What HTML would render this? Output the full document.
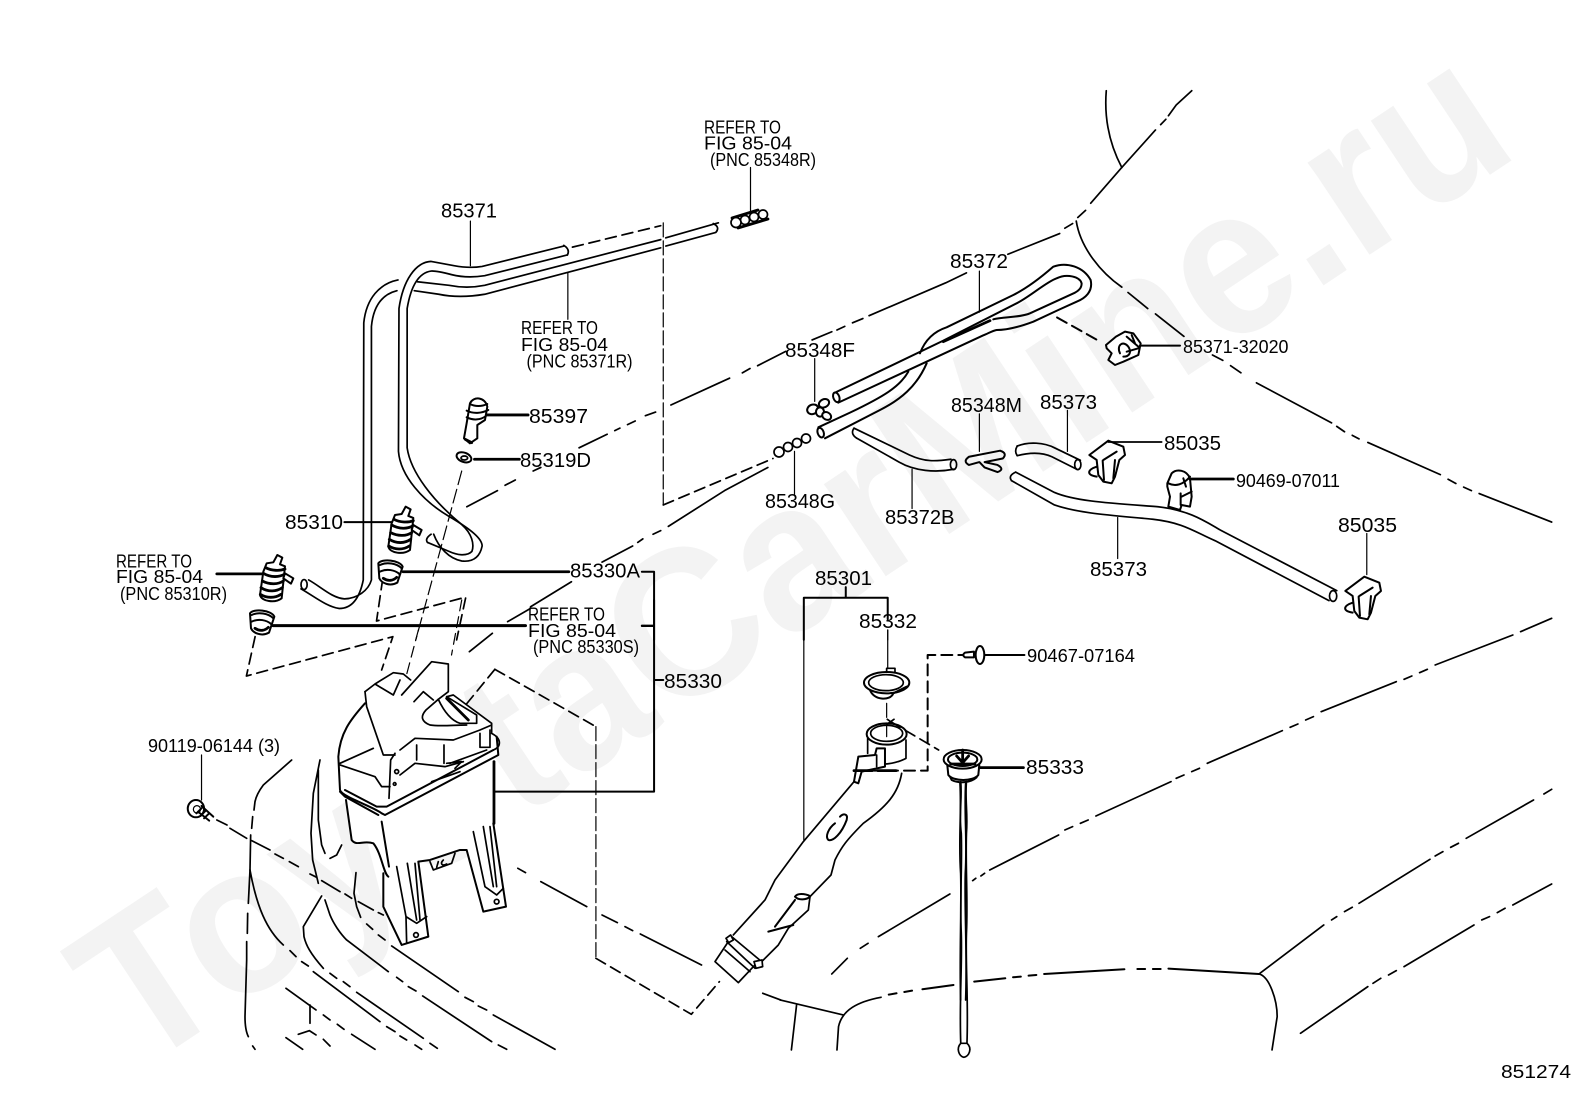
<!DOCTYPE html>
<html><head><meta charset="utf-8"><style>
html,body{margin:0;padding:0;background:#fff;width:1592px;height:1099px;overflow:hidden}
svg{display:block;overflow:hidden}
path,line,ellipse,circle,polyline{vector-effect:non-scaling-stroke}
.g{fill:none;stroke:#000;stroke-width:1.7;stroke-linejoin:round;stroke-linecap:round}
.t{stroke-width:1.2}.k{stroke-width:2.8}.d{stroke-dasharray:11 6}.b{stroke-width:2}
.w{fill:#fff}.f{fill:#000}
text{font-family:"Liberation Sans",sans-serif;font-size:20.5px;fill:#000}
text.s{font-size:18.5px}
text.wm{font-size:210px;font-weight:bold;fill:#f3f3f3}
</style></head><body>
<svg width="1592" height="1099" viewBox="0 0 1592 1099" xmlns="http://www.w3.org/2000/svg">
<rect width="1592" height="1099" fill="#fff"/>
<text class="wm" x="138" y="1073" transform="rotate(-33.6 138 1073)" textLength="1662" lengthAdjust="spacingAndGlyphs">ToyotaCarMine.ru</text>

<!-- zoom 1 coords -->
<g class="g" transform="translate(0,80) scale(.5102,.3571)">
<path d="M1105,465L945,522Q920,528 890,520T845,508C815,510 790,560 782,640L781,1040C785,1110 830,1180 880,1222C925,1260 945,1285 945,1305C940,1340 925,1350 905,1347C880,1340 860,1310 850,1272"/>
<path d="M1112,490L950,548Q915,556 885,545T845,535C820,540 805,580 798,640L798,1030C805,1100 850,1180 905,1245C925,1270 930,1300 925,1320C915,1335 895,1330 880,1320L838,1295"/>
<path d="M1105,463Q1118,475 1112,490"/>
<path d="M845,1272Q832,1285 838,1295"/>
<path d="M1408,400L1305,442M1295,447L950,575Q915,585 880,575L818,565"/>
<path d="M1398,402Q1412,412 1403,427L1305,465M1295,470L950,600Q900,612 860,600L812,590"/>
<path d="M780,560C745,570 718,610 713,680L712,1400C705,1450 690,1480 665,1480C640,1475 615,1445 590,1425"/>
<path d="M778,590C750,600 732,630 728,690L728,1400C722,1430 700,1452 675,1453C650,1450 630,1420 605,1400"/>
<ellipse cx="596" cy="1413" rx="6" ry="14"/>
<!-- leaders -->
<path class="t" d="M922,395V520M1113,540V670M1471,245V375"/>
<path class="k" d="M955,938H1035M930,1062H1018M425,1383H515M790,1377H1115M535,1528H1030"/>
<path class="b" d="M675,1238H770M1258,1377H1282V1568M1258,1528H1282"/>
<!-- dashes -->
<path class="d" d="M1122,468L1295,408"/>
<path class="t" stroke-dasharray="14 4" d="M1300,400V1190"/>
<path class="d" d="M1300,1190L1515,1060"/>
<path d="M1540,760L1485,800M1470,808L1455,820M1430,835L1410,848L1315,910M1285,930L1265,940M1245,955L1230,965M1215,975L1205,982M1190,992L1135,1030M1060,1085L1045,1095M1010,1120L990,1135M975,1150L915,1195"/>
<path d="M1505,1085L1420,1150L1310,1250M1295,1262L1280,1272M1260,1285L1250,1295M1240,1305L1180,1350M1120,1405L1040,1475"/>
<path class="t" stroke-dasharray="14 5" d="M905,1095L815,1568"/>
<path class="d" d="M755,1350L738,1515L913,1448L895,1568"/>
</g>

<!-- small multi-ring fittings (true px) -->
<g class="g">
<path class="k" d="M736,222.5L763,214.5M732,218L758,210M738,228L768,219"/>
<circle class="w" cx="763" cy="214.5" r="4.5"/><circle class="w" cx="754" cy="217" r="4.5"/><circle class="w" cx="745" cy="220" r="4.5"/><circle class="w" cx="736" cy="222.5" r="5"/>
<circle class="w" cx="806" cy="438.5" r="4.5"/><circle class="w" cx="797" cy="443" r="4.5"/><circle class="w" cx="788" cy="447" r="4.5"/><circle class="w" cx="779" cy="452" r="5"/>
</g>

<!-- connectors, true 3x at 240,390 -->
<g class="g" transform="translate(240,390) scale(.3333)">
<path class="b w" d="M690,40C700,18 735,20 742,50L735,90L712,105L712,145L690,160L672,145L680,100Z"/>
<path class="b" d="M690,42C705,50 725,50 742,42M680,62C700,72 725,70 745,60M680,82C700,92 722,90 738,78"/>
<path class="k" d="M676,148L695,158"/>
<ellipse class="b w" cx="672" cy="202" rx="23" ry="14" transform="rotate(20 672 202)"/>
<ellipse cx="673" cy="204" rx="10" ry="6"/>
<g>
<path class="b w" d="M485,372L497,350L512,358L505,378L520,384L510,480C490,495 450,490 445,470L455,400L465,375Z"/>
<path class="k" d="M462,388C480,398 505,398 520,392M455,405C480,420 505,415 518,408M452,428C475,440 500,438 515,428M448,448C470,462 495,460 512,448M446,468C465,480 490,480 508,468"/>
<path class="b w" d="M520,405L545,420L538,436L515,420Z"/>
</g>
<g transform="translate(-385,145)">
<path class="b w" d="M485,372L497,350L512,358L505,378L520,384L510,480C490,495 450,490 445,470L455,400L465,375Z"/>
<path class="k" d="M462,388C480,398 505,398 520,392M455,405C480,420 505,415 518,408M452,428C475,440 500,438 515,428M448,448C470,462 495,460 512,448M446,468C465,480 490,480 508,468"/>
<path class="b w" d="M520,405L545,420L538,436L515,420Z"/>
</g>
<path class="b w" d="M415,520C425,505 480,510 488,530L472,578C450,590 425,580 418,565Z"/>
<path class="b" d="M420,525C440,515 470,520 485,535M420,545C440,535 465,540 478,552"/>
<path class="k" d="M430,565C445,575 460,572 470,562"/>
<path class="b w" d="M30,670C40,655 95,660 103,680L87,728C65,740 40,730 33,715Z"/>
<path class="b" d="M35,675C55,665 85,670 100,685M35,695C55,685 80,690 93,702"/>
<path class="k" d="M45,715C60,725 75,722 85,712"/>
</g>

<!-- zoom 2 coords -->
<g class="g" transform="translate(780,80) scale(.5179,.3571)">
<path d="M630,30C625,120 640,190 660,245"/>
<path d="M795,30L765,70L750,100M745,110L735,125M725,140L660,245L600,345M590,365L575,385M565,402L550,415M540,430L440,488M360,540L320,568M320,568L172,660M160,668L140,680M125,690L110,700M100,705L62,728"/>
<path d="M572,395C580,470 620,540 660,580M672,595L710,640M725,655L780,718M835,770L855,785M870,800L890,820M920,848L1065,960M1075,970L1090,985M1105,995L1118,1005M1135,1015L1275,1105M1290,1118L1305,1130M1320,1140L1335,1150M1350,1158L1490,1238"/>
<path class="d b" d="M535,665L615,730"/>
<path class="t" d="M385,535V650M555,925V1040M385,935V1040M1133,1270V1385M652,1225V1340M255,1090V1200M28,1040V1160M67,780V900"/>
<path class="b" d="M46,1568V1450H208V1510M127,1420V1450"/>
<path class="t" d="M208,1540V1568"/>
<!-- 85372B -->
<path d="M143,975L250,1050C280,1070 300,1068 330,1062M148,1003L230,1070C260,1095 300,1100 335,1090"/>
<path d="M143,975Q135,990 148,1003"/><ellipse cx="335" cy="1077" rx="6" ry="14"/>
<!-- 85373 short -->
<path d="M458,1025C480,1012 510,1015 530,1030L580,1065M458,1052C490,1040 510,1045 525,1055L573,1090"/>
<path d="M458,1025Q452,1040 458,1052"/><ellipse cx="575" cy="1077" rx="6" ry="14"/>
<!-- 85373 long -->
<path d="M455,1098L530,1155C570,1180 640,1185 730,1195C790,1205 820,1235 850,1260L1075,1430M447,1122L530,1190C580,1215 650,1220 720,1230C780,1240 800,1265 840,1290L1060,1458"/>
<path d="M455,1098Q440,1108 447,1122"/><ellipse cx="1068" cy="1445" rx="7" ry="15"/>
<!-- 85348M T -->
<path class="b" d="M365,1055L425,1038Q440,1045 430,1060L395,1070L420,1078Q435,1090 420,1098L395,1085L385,1070L365,1078Q352,1068 365,1055Z"/>
</g>

<!-- 85372 hoses true 3x at 800,250 -->
<g class="g" transform="translate(800,250) scale(.3333)">
<path class="b" d="M55,532L150,488C250,440 300,410 325,365M360,310C375,270 400,245 440,232L640,135C680,115 720,85 760,50C800,35 850,50 872,90C880,125 855,145 830,155L775,180L700,215C660,230 620,240 590,240C578,242 565,250 550,256L115,458"/>
<path class="b" d="M75,565L240,480C300,450 350,410 380,340"/>
<path class="b" d="M105,428L430,272L650,160C690,140 740,95 770,85C800,70 840,80 845,100C845,115 835,122 825,128L690,190C660,203 610,200 580,208"/>
<path class="k" d="M430,275L570,212"/>
<ellipse class="b w" cx="109" cy="442" rx="9" ry="15" transform="rotate(-20 109 442)"/>
<ellipse class="b w" cx="62" cy="548" rx="9" ry="15" transform="rotate(-20 62 548)"/>
<!-- 85348F -->
<ellipse class="b w" cx="72" cy="460" rx="16" ry="12" transform="rotate(-25 72 460)"/>
<ellipse class="b w" cx="38" cy="478" rx="17" ry="14" transform="rotate(-25 38 478)"/>
<ellipse class="b w" cx="60" cy="486" rx="12" ry="14"/>
<ellipse class="b w" cx="80" cy="498" rx="14" ry="11" transform="rotate(30 80 498)"/>
</g>

<!-- clips / nozzles true 3x at 1080,320 -->
<g class="g" transform="translate(1080,320) scale(.3333)">
<path class="b w" d="M78,75L108,50L135,35L160,40L182,70L175,105L130,125L105,135L85,120L95,100L80,85Z"/>
<path class="b" d="M120,100C108,75 130,60 145,80C155,95 150,110 130,110M140,50L175,80M155,45L165,70M140,95L175,85"/>
<path class="b" d="M180,77H300"/>
<path class="b w" d="M28,405L85,362L130,380L135,405L118,420L105,470L95,490L70,485L55,465L50,420Z"/>
<path class="b" d="M70,420L110,395M50,440C20,450 20,465 50,470M68,422L72,480M105,420L100,475"/>
<path d="M85,366H245"/>
<g transform="translate(768,408)">
<path class="b w" d="M28,405L85,362L130,380L135,405L118,420L105,470L95,490L70,485L55,465L50,420Z"/>
<path class="b" d="M70,420L110,395M50,440C20,450 20,465 50,470M68,422L72,480M105,420L100,475"/>
</g>
<path class="b w" d="M262,490L275,460C290,445 320,450 330,475L335,530L330,560L305,555L300,570L265,560L270,530L262,500Z"/>
<path class="b" d="M265,490C285,500 310,495 330,470M305,530L335,515M310,475L318,500M302,520L302,555"/>
<path class="k" d="M330,477H460"/>
</g>

<!-- zoom 3 coords -->
<g class="g" transform="translate(0,600) scale(.5102,.3333)">
<path class="b" d="M1282,0V575H970M1258,78H1282M1282,240H1300"/>
<path class="k" d="M535,77H1030"/>
<path class="d" d="M500,110L483,228L770,110L748,210"/>
<path class="d t" d="M820,90L795,235M905,0L885,165"/>
<path d="M1040,25L995,65M965,100L920,155"/>
<path class="d" d="M970,208L910,320"/>
<path class="d" d="M970,208L1168,380"/>
<path class="t" stroke-dasharray="14 4" d="M1168,380V1075"/>
<path class="d" d="M1168,1075L1355,1243L1410,1145"/>
<path d="M1015,805L1030,818M1060,845L1150,920M1180,945L1210,968M1225,980L1240,992M1255,1002L1375,1095"/>
<path d="M425,660L445,675"/>
<!-- bolt 90119 -->
<path class="t" d="M395,465V600"/>
<ellipse class="b" cx="384" cy="626" rx="16" ry="26"/><ellipse class="t" cx="386" cy="628" rx="7" ry="11"/>
<path class="b" d="M395,618L418,650M388,635L410,662M395,625L385,640M403,632L393,648M410,640L400,655"/>
<path d="M1495,1180L1530,1200"/>
</g>

<!-- car lines true 3x at 230,760 -->
<g class="g" transform="translate(230,760) scale(.3333)">
<path d="M185,0L100,75C85,95 78,110 75,125L72,150M68,170L65,205M62,225L60,330L55,430M53,460L52,520M50,545L50,600L45,770C45,800 50,820 55,830M68,858L75,868"/>
<path d="M60,330C80,440 110,510 160,555M180,572L198,590M215,605L235,618M250,635L450,785M470,800L495,815M510,828L530,840M555,855L575,868"/>
<path d="M270,0L250,100L243,220L248,300L265,370M285,420L300,465C310,490 330,520 350,540L475,635M500,652L518,665M535,680L558,693M578,708L785,845M805,855L830,868"/>
<path d="M275,408L220,500L222,530C228,555 240,580 280,625M300,640L320,655M340,665L360,680M380,697L580,835M600,850L622,865"/>
<path d="M378,338L372,400L380,440L392,472M410,492L428,508M445,525L465,540M485,558L685,695M705,712L730,725M745,738L770,750M790,765L975,868"/>
<path d="M265,30L265,180L275,255M275,255L285,280M300,295L320,285L335,255"/>
<path d="M168,685L258,750M280,765L300,780M322,793L342,808M365,823L435,868M240,735V790M205,823L238,812L258,825M280,838L300,858M168,833L218,868"/>
<path d="M0,205L50,235M65,242L120,270M135,282L160,295M178,305L205,320M240,342L260,352M275,362L330,395M345,402L365,415M385,425L430,450M445,458L460,465"/>
</g>

<!-- zoom 4 coords -->
<g class="g" transform="translate(780,600) scale(.5179,.3333)">
<path d="M1490,55L1430,95M1415,105L1265,195M1250,208L1235,218M1220,228L1205,238M1190,245L1045,335M1030,350L1015,360M1000,372L985,382M970,392L825,490M810,505L795,515M780,525L765,535M755,545L610,648M595,660L580,670M565,680L550,690M538,705L405,810M395,820L388,828M378,835L372,842M328,882L190,1010M170,1030L155,1045M130,1075L100,1122"/>
<path d="M1490,568L1475,582M1455,600L1325,715M1310,730L1295,742M1280,755L1265,768M1255,778L1118,910M1105,922L1090,935M1075,950L1065,960M1050,975L925,1122"/>
<path d="M1490,852L1415,915M1400,925L1385,938M1370,950L1355,960M1340,975L1205,1100M1190,1112L1175,1125M1160,1135L1145,1150M1135,1160L1005,1300"/>
<path class="b" d="M375,1145L435,1135M450,1132L465,1130M480,1127L495,1125M510,1122L665,1108M690,1107L705,1107M720,1107L735,1107M750,1106L925,1122"/>
<path class="b" d="M335,1155L275,1168M255,1172L240,1176M225,1180L210,1184"/>
<path d="M195,1192C150,1205 120,1230 113,1280L110,1350"/>
<path d="M0,1200L122,1245"/>
<path d="M32,1215L22,1350"/>
<path d="M925,1122C945,1130 960,1200 960,1250L950,1350"/>
<path class="t" d="M46,0V720M208,90V205"/>
<path class="b" d="M395,165H472"/>
<path class="k" d="M385,503H470"/>
<!-- dipstick -->
<path d="M349,545C352,600 345,640 350,700C352,800 347,900 350,1000C352,1100 346,1200 349,1330M360,545C357,600 363,640 360,700C358,800 363,900 360,1000C358,1100 364,1200 361,1330"/>
<path class="w" d="M349,1330C340,1345 345,1368 355,1372C365,1370 372,1345 361,1330Z"/>
</g>

<!-- tank -->
<g class="g" transform="translate(320,660) scale(.3333)">
<path class="w" stroke="none" d="M135,95L165,72L220,38L250,42L272,60L335,5L385,12L385,95L400,105L515,190L535,235L530,290L522,305L522,490L558,740L490,755L440,570L420,570L330,600L295,605L325,830L245,855L190,740L190,640L160,550C130,540 110,560 95,540L78,420L60,390L55,290C60,220 90,180 135,130Z"/>
<path d="M135,95L165,72L220,38L250,42L272,60M245,105L335,5L385,12L385,95L355,118L318,150C300,170 305,185 330,195C360,200 400,195 440,195M165,72L220,105L240,60M282,125L310,95L340,120"/>
<path d="M135,95L140,140L190,285L225,285M355,118C370,150 390,180 420,190L470,190L470,165L380,110M380,110L400,105L515,190L515,220"/>
<path d="M240,270L285,235L400,240L480,210L515,195M60,310L160,265M60,315L165,350L185,380L210,380"/>
<path class="b" d="M135,130C90,180 60,220 55,290L60,390C65,410 160,440 185,460L195,465L535,285L530,230"/>
<path class="b" d="M75,390L170,440L200,440L520,270M60,395L75,410L175,465"/>
<path class="b" d="M78,420L95,540C110,560 130,540 160,550C185,580 190,640 205,650M185,485L207,620M190,640L190,740L245,855L325,830L295,605L330,600L420,570L440,570L490,755L558,740L520,490"/>
<path class="k" d="M522,305V490"/>
<path d="M230,620L258,770L290,790L320,770M262,610L290,780M285,610L300,780M258,770L260,850"/>
<circle cx="288" cy="825" r="7"/>
<path d="M460,515L495,680L530,705L550,685M490,500L520,680M510,500L530,680"/>
<circle cx="530" cy="725" r="7"/>
<path d="M330,605L340,630L395,610L405,580M355,605L350,622M370,600C360,610 365,620 380,612"/>
<path d="M290,255V300M372,255V310M207,415L212,300L225,280M240,345L285,310L375,320L430,305"/>
<circle cx="230" cy="335" r="6"/><circle cx="224" cy="372" r="4"/>
<path d="M480,220V262H510V210M390,310L500,270M335,365L420,335M515,220C545,235 545,260 520,270M380,310L425,305L405,325"/>
<path class="k" d="M380,115L445,180"/>
</g>

<!-- filler neck / caps -->
<g class="g" transform="translate(700,640) scale(.3333)">
<path class="b" d="M510,150C520,180 570,185 580,160L620,140"/>
<path class="w" d="M560,97V85H585V97"/>
<ellipse class="b" cx="560" cy="128" rx="68" ry="32"/>
<ellipse cx="558" cy="128" rx="52" ry="24"/>
<path class="t" stroke-dasharray="14 6" d="M560,190V290"/>
<path class="d" d="M572,245L716,330"/>
<path d="M562,238L582,252M582,238L562,252"/>
<ellipse class="b" cx="560" cy="282" rx="60" ry="32"/>
<ellipse cx="560" cy="280" rx="48" ry="24"/>
<path d="M503,295V340M618,300V355C600,365 570,372 555,372"/>
<path class="w b" d="M555,325L530,325L525,345L475,350L462,425L475,430L485,395L555,380Z"/>
<path d="M530,345L530,380"/>
<path d="M462,425L310,605L225,720L195,780L100,885"/>
<path d="M605,400C595,460 560,500 490,550C440,600 425,620 405,660L393,705L330,770L325,810L265,865L235,915L185,965"/>
<path class="b" d="M405,550C385,565 375,590 385,600C400,605 425,580 440,540C445,520 430,520 420,530"/>
<path class="b" d="M285,770C295,755 330,765 330,770C320,780 295,782 285,770M285,780L225,860M205,875L280,855"/>
<path d="M85,905L45,965L115,1028L165,975"/>
<path d="M80,905L165,985M95,890L185,965M75,930L150,995"/>
<path class="w" d="M78,895L92,885L100,900L86,908ZM162,965L186,960L188,980L168,985Z"/>
<path class="d b" d="M510,392H683V45H790"/>
<path class="k" d="M462,392H600" stroke-dasharray="18 6"/>
<path class="w b" d="M795,38L822,35V52L795,52Q785,45 795,38Z"/>
<ellipse class="w b" cx="840" cy="45" rx="13" ry="27"/>
<path class="b" d="M742,375L745,405C760,425 820,425 835,405L838,375"/>
<path class="b" d="M750,410L755,420C775,430 810,430 830,412"/>
<ellipse class="w b" cx="788" cy="358" rx="57" ry="28"/>
<ellipse class="b" cx="788" cy="358" rx="44" ry="20"/>
<path class="k" d="M770,348L788,368L806,348M788,330V372M752,372H825"/>
<path d="M780,430C785,520 775,600 782,700C785,800 778,950 782,1080M797,430C792,520 802,600 796,700C793,800 802,950 797,1080"/>
</g>

<!-- labels -->
<text class="s" x="704" y="133.6" textLength="77" lengthAdjust="spacingAndGlyphs">REFER TO</text>
<text class="s" x="704" y="149.5" textLength="88" lengthAdjust="spacingAndGlyphs">FIG 85-04</text>
<text class="s" x="710" y="166" textLength="106" lengthAdjust="spacingAndGlyphs">(PNC 85348R)</text>
<text x="441" y="217.5" textLength="56" lengthAdjust="spacingAndGlyphs">85371</text>
<text class="s" x="521" y="334" textLength="77" lengthAdjust="spacingAndGlyphs">REFER TO</text>
<text class="s" x="521" y="351" textLength="87" lengthAdjust="spacingAndGlyphs">FIG 85-04</text>
<text class="s" x="526.5" y="367.5" textLength="106" lengthAdjust="spacingAndGlyphs">(PNC 85371R)</text>
<text x="529" y="423" textLength="59" lengthAdjust="spacingAndGlyphs">85397</text>
<text x="520" y="467" textLength="71" lengthAdjust="spacingAndGlyphs">85319D</text>
<text x="285" y="529" textLength="58" lengthAdjust="spacingAndGlyphs">85310</text>
<text class="s" x="116" y="567.5" textLength="76" lengthAdjust="spacingAndGlyphs">REFER TO</text>
<text class="s" x="116" y="583" textLength="87" lengthAdjust="spacingAndGlyphs">FIG 85-04</text>
<text class="s" x="120" y="600" textLength="107" lengthAdjust="spacingAndGlyphs">(PNC 85310R)</text>
<text x="570" y="577.5" textLength="70" lengthAdjust="spacingAndGlyphs">85330A</text>
<text class="s" x="528" y="620.7" textLength="77" lengthAdjust="spacingAndGlyphs">REFER TO</text>
<text class="s" x="528" y="637" textLength="88" lengthAdjust="spacingAndGlyphs">FIG 85-04</text>
<text class="s" x="533" y="653" textLength="106" lengthAdjust="spacingAndGlyphs">(PNC 85330S)</text>
<text x="664" y="688" textLength="58" lengthAdjust="spacingAndGlyphs">85330</text>
<text class="s" x="148" y="752" textLength="132" lengthAdjust="spacingAndGlyphs">90119-06144 (3)</text>
<text x="950" y="268" textLength="58" lengthAdjust="spacingAndGlyphs">85372</text>
<text x="785" y="357" textLength="70" lengthAdjust="spacingAndGlyphs">85348F</text>
<text class="s" x="1183" y="353" textLength="105.5" lengthAdjust="spacingAndGlyphs">85371-32020</text>
<text x="951" y="412" textLength="71" lengthAdjust="spacingAndGlyphs">85348M</text>
<text x="1040" y="409" textLength="57" lengthAdjust="spacingAndGlyphs">85373</text>
<text x="1164" y="450" textLength="57" lengthAdjust="spacingAndGlyphs">85035</text>
<text class="s" x="1236" y="487" textLength="104" lengthAdjust="spacingAndGlyphs">90469-07011</text>
<text x="765" y="508" textLength="70" lengthAdjust="spacingAndGlyphs">85348G</text>
<text x="885" y="524" textLength="69.5" lengthAdjust="spacingAndGlyphs">85372B</text>
<text x="1090" y="576" textLength="57" lengthAdjust="spacingAndGlyphs">85373</text>
<text x="1338" y="532" textLength="59" lengthAdjust="spacingAndGlyphs">85035</text>
<text x="815" y="585" textLength="57" lengthAdjust="spacingAndGlyphs">85301</text>
<text x="859" y="628" textLength="58" lengthAdjust="spacingAndGlyphs">85332</text>
<text class="s" x="1027" y="662" textLength="108" lengthAdjust="spacingAndGlyphs">90467-07164</text>
<text x="1026" y="774" textLength="58" lengthAdjust="spacingAndGlyphs">85333</text>
<text class="s" x="1501" y="1078" textLength="70" lengthAdjust="spacingAndGlyphs">851274</text>
</svg>
</body></html>
